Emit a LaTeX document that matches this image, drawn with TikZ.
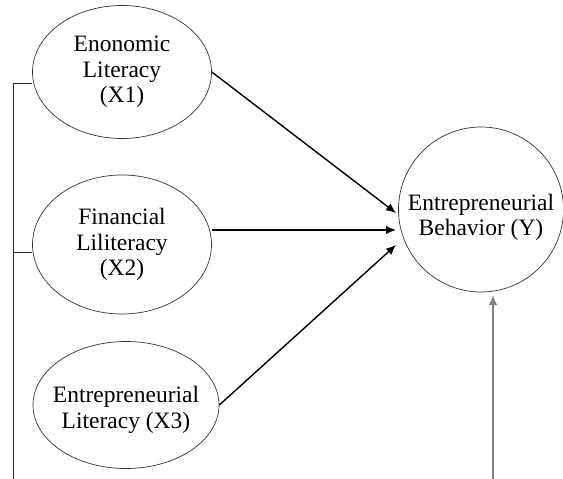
\documentclass[tikz,border=0pt]{standalone}
\usepackage{fontspec}
\setmainfont{Liberation Serif}
\usetikzlibrary{shapes.geometric,arrows.meta}
\begin{document}
\begin{tikzpicture}[x=1pt,y=-1pt,
  words/.style={align=center,inner sep=0pt,font=\fontsize{23.5}{25.5}\selectfont},
  construct/.style={draw=black!80,line width=0.7pt,ellipse,inner sep=0pt,words},
  outcome/.style={draw=black!80,line width=0.7pt,circle,inner sep=0pt,minimum size=165pt},
  path/.style={line width=1.4pt,-{Latex[length=10pt,width=8.5pt]}},
  bracket/.style={line width=0.8pt,draw=black!85},
  ctrl/.style={line width=1.5pt,draw=black!50,-{Latex[length=10pt,width=8.5pt]},color=black!50}]
\useasboundingbox (0,0) rectangle (563,479);

% latent constructs
\node[construct,minimum width=179pt,minimum height=133pt] (x1) at (122,72)
  {Enonomic\\Literacy\\(X1)};
\node[construct,minimum width=179pt,minimum height=139pt] (x2) at (122,244.5)
  {Financial\\Liliteracy\\(X2)};
\node[construct,minimum width=186pt,minimum height=127pt] (x3) at (126,405) {};
\node[words] (x3t) at ([yshift=-5pt]x3.center) {Entrepreneurial\\Literacy (X3)};
\node[outcome] (y) at (481,209.5) {};
\node[words] (yt) at ([yshift=-8pt]y.center) {Entrepreneurial\\Behavior (Y)};

% arrow targets beside the outcome
\coordinate (t1) at (396,213);
\coordinate (t2) at (396,230);
\coordinate (t3) at (396,245);
\coordinate (t4) at (493,295);
\coordinate (b4) at (493,479);

\draw[path] (x1.east) -- (t1);
\draw[path] (x2.east |- t2) -- (t2);
\draw[path] (x3.east) -- (t3);
\draw[ctrl] (b4) -- (t4);

% bracket joining the predictors
\coordinate (lb) at (13,479);
\coordinate (l1) at (13,83);
\coordinate (l2) at (13,252);
\draw[bracket] (lb) -- (l1) -- (x1.west |- l1);
\draw[bracket] (l2) -- (x2.west |- l2);
\end{tikzpicture}
\end{document}
